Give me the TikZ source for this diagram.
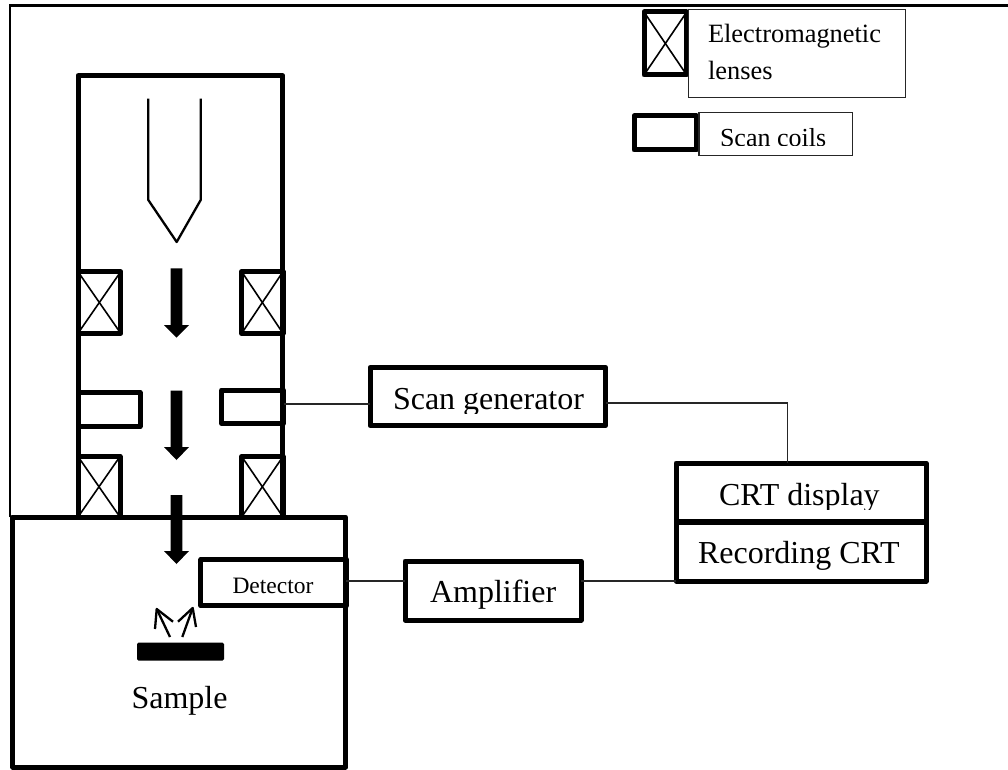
\documentclass[tikz,border=0pt]{standalone}
\usepackage{fontspec}
\setmainfont{Liberation Serif}
\tikzset{
  thickbox/.style={draw=black,line width=5pt,rectangle,inner sep=0pt,outer sep=0pt,line join=round},
  thinbox/.style={draw=black!85,line width=1.3pt,fill=white,rectangle,inner sep=0pt,outer sep=0pt},
  wire/.style={draw=black!85,line width=1.4pt},
  crossing/.style={draw=black,line width=1.6pt},
  label/.style={inner sep=0pt,outer sep=0pt,anchor=base west},
  thinline/.style={draw=black,line width=2.3pt,line join=round},
}
% name, x-left, y-top, x-right, y-bottom
\newcommand{\tbox}[5]{\node[thickbox,minimum width={(#4-#2)*1pt},minimum height={(#5-#3)*1pt}] (#1) at ({(#2+#4)/2},{(#3+#5)/2}) {};}
\newcommand{\lensbox}[5]{\tbox{#1}{#2}{#3}{#4}{#5}
  \draw[crossing] (#1.north west) -- (#1.south east);
  \draw[crossing] (#1.north east) -- (#1.south west);}
\newcommand{\beamarrow}[3]{\fill[black] (170.7,#1) -- (182.3,#1) -- (182.3,#2) -- (189,#2) -- (176.5,#3) -- (164,#2) -- (170.7,#2) -- cycle;}
\begin{document}
\begin{tikzpicture}[x=1pt,y=-1pt]
\useasboundingbox (0,0) rectangle (1008,770);
\fill[white] (0,0) rectangle (1008,770);
% outer frame (top and left only)
\draw[black,line width=2.3pt] (10,517) -- (10,5.5) -- (1008,5.5);
% column
\draw[black,line width=5pt,line join=round] (78,517) -- (78,75.7) -- (282.7,75.7) -- (282.7,517);
% gun
\draw[thinline] (148.3,98.7) -- (148.3,200) -- (176.7,242) -- (200.7,200) -- (200.7,98.7);
% lenses
\lensbox{lensUL}{78}{271.7}{120.7}{333.3}
\lensbox{lensUR}{241.7}{271.7}{283}{333.3}
\lensbox{lensLL}{78}{456.5}{120}{517}
\lensbox{lensLR}{241.7}{456.5}{283}{517}
% scan coils
\tbox{coilL}{78}{392.5}{140}{426.7}
\tbox{coilR}{221.7}{390}{283.5}{423.3}
% sample chamber
\tbox{chamber}{12.7}{517}{345.5}{767}
% beam arrows
\beamarrow{268.3}{325}{337.7}
\beamarrow{390.7}{447}{460}
\beamarrow{495}{551}{564}
% detector
\node[thickbox,minimum width=145.5pt,minimum height=46.5pt] (detector) at (273.7,582.7) {};
\node[label,font=\fontsize{23.5}{26}\selectfont] (detectorlabel) at (232.5,593) {Detector};
% emission arrows
\coordinate (emL) at (170,637);
\coordinate (emLtip) at (156.7,609);
\coordinate (emR) at (182.3,637);
\coordinate (emRtip) at (192.7,608);
\draw[thinline] (emL) -- (emLtip);
\draw[thinline] (155,629) -- (emLtip) -- (173,621.7);
\draw[thinline] (emR) -- (emRtip);
\draw[thinline] (178,621.7) -- (emRtip) -- (196,627);
% sample
\node[fill=black,rectangle,rounded corners=1.5pt,inner sep=0pt,outer sep=0pt,minimum width=87pt,minimum height=18pt] (samplebar) at (180.5,651.7) {};
\node[label,font=\fontsize{32}{36}\selectfont] (samplelabel) at (131.5,708) {Sample};
% scan generator
\tbox{scangen}{370}{367.3}{605.7}{425.7}
\begin{scope}
\clip (370,367) rectangle (605,413);
\node[label,font=\fontsize{32}{36}\selectfont] (scangenlabel) at (393,409.3) {Scan generator};
\end{scope}
% amplifier
\tbox{amp}{405}{561}{581}{620}
\node[label,font=\fontsize{32}{36}\selectfont] (amplabel) at (430,602.7) {Amplifier};
% CRT
\tbox{crt}{676}{463}{926}{581}
\draw[black,line width=5.5pt] (crt.west) -- (crt.east);
\begin{scope}
\clip (676,463) rectangle (926,509);
\node[label,font=\fontsize{32}{36}\selectfont] (crtlabel) at (719,505) {CRT display};
\end{scope}
\node[label,font=\fontsize{32}{36}\selectfont] (reclabel) at (698,563) {Recording CRT};
% wires
\coordinate (wa) at (0,404);
\coordinate (wb) at (787.7,403);
\coordinate (wc) at (0,581);
\draw[wire] (coilR.east |- wa) -- (scangen.west |- wa);
\draw[wire] (scangen.east |- wb) -- (wb) -- (wb |- crt.north);
\draw[wire] (detector.east |- wc) -- (amp.west |- wc);
\draw[wire] (amp.east |- wc) -- (crt.south west);
% legend
\lensbox{legendlens}{644}{12}{686.7}{75}
\node[thinbox,minimum width=217pt,minimum height=88.4pt] (legendbox) at (796.8,53.5) {};
\node[label,font=\fontsize{26.4}{30}\selectfont] (legendtextA) at (708,43) {Electromagnetic};
\node[label,font=\fontsize{26.4}{30}\selectfont] (legendtextB) at (708,80) {lenses};
\tbox{legendcoil}{634}{116}{696.7}{150}
\node[thinbox,minimum width=153.3pt,minimum height=43.4pt] (legendbox2) at (775.6,134) {};
\begin{scope}
\clip (700,113) rectangle (852,146);
\node[label,font=\fontsize{26}{30}\selectfont] (legendtextC) at (720,147) {Scan coils};
\end{scope}
\end{tikzpicture}
\end{document}
